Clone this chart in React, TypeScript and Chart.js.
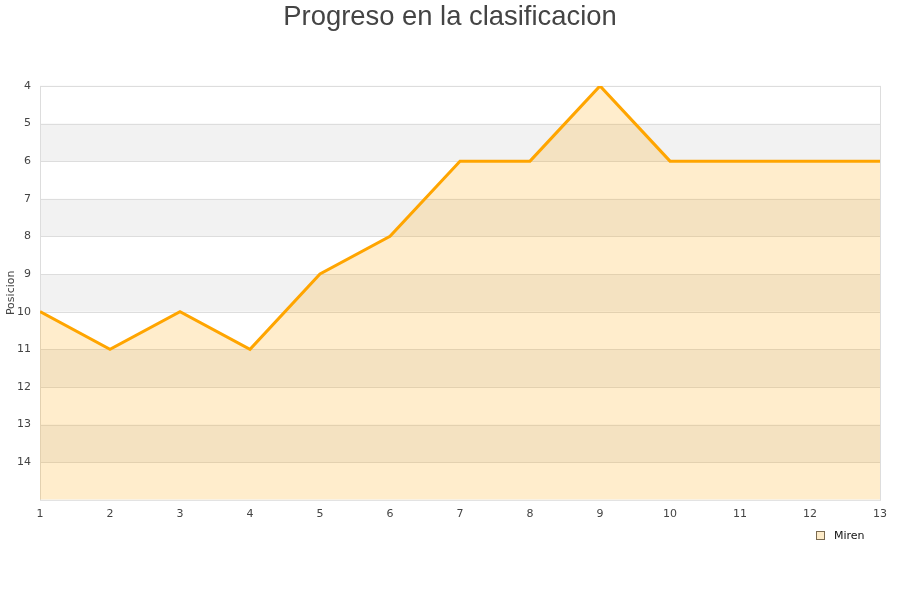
import React, { useEffect, useRef } from "react";
import { Chart, registerables } from "chart.js";

Chart.register(...registerables);

const jornadas = [1, 2, 3, 4, 5, 6, 7, 8, 9, 10, 11, 12, 13];
const posiciones = [10, 11, 10, 11, 9, 8, 6, 6, 4, 6, 6, 6, 6];
const equipo = "Miren";
const titulo = "Progreso en la clasificacion";
const ejeY = "Posicion";

// Alternating horizontal stripes, grid lines and frame behind the data
const stripes = {
  id: "stripes",
  beforeDatasetsDraw(chart: any) {
    const { ctx, chartArea, scales } = chart;
    const y = scales.y;
    ctx.save();
    for (let v = 5; v < 15; v += 2) {
      const a = y.getPixelForValue(v);
      const b = y.getPixelForValue(v + 1);
      ctx.fillStyle = "#f2f2f2";
      ctx.fillRect(chartArea.left, Math.min(a, b), chartArea.right - chartArea.left, Math.abs(b - a));
    }
    ctx.strokeStyle = "#dddddd";
    ctx.lineWidth = 1;
    for (let v = 4; v <= 14; v++) {
      const p = Math.round(y.getPixelForValue(v)) + 0.5;
      ctx.beginPath();
      ctx.moveTo(chartArea.left, p);
      ctx.lineTo(chartArea.right, p);
      ctx.stroke();
    }
    ctx.strokeRect(chartArea.left + 0.5, chartArea.top + 0.5, chartArea.right - chartArea.left, chartArea.bottom - chartArea.top);
    ctx.restore();
  },
};

// Small legend entry in the lower right corner
const legendBox = {
  id: "legendBox",
  afterDraw(chart: any) {
    const { ctx } = chart;
    const ds = chart.data.datasets[0];
    ctx.save();
    ctx.fillStyle = "#fdebc8";
    ctx.strokeStyle = "#7a6a50";
    ctx.lineWidth = 1;
    ctx.fillRect(816.5, 531.5, 8, 8);
    ctx.strokeRect(816.5, 531.5, 8, 8);
    ctx.fillStyle = "#111111";
    ctx.font = "11px 'DejaVu Sans'";
    ctx.textBaseline = "middle";
    ctx.textAlign = "left";
    ctx.fillText(ds.label, 834, 536);
    ctx.restore();
  },
};

export default function App() {
  const ref = useRef<HTMLCanvasElement>(null);
  useEffect(() => {
    const chart = new Chart(ref.current!, {
      type: "line",
      data: {
        datasets: [
          {
            label: equipo,
            data: jornadas.map((j, i) => ({ x: j, y: posiciones[i] })),
            borderColor: "#ffa500",
            backgroundColor: "rgba(255,165,0,0.2)",
            borderWidth: 3,
            pointRadius: 0,
            tension: 0,
            fill: { value: 15 },
          },
        ],
      },
      plugins: [stripes, legendBox],
      options: {
        animation: false,
        responsive: false,
        layout: { padding: { left: 0, right: 0, top: 0, bottom: 71 } },
        plugins: {
          title: {
            display: true,
            text: titulo,
            color: "#444444",
            font: { family: "Liberation Sans", size: 27.4, weight: "normal" },
            padding: { top: 1, bottom: 52 },
          },
          legend: { display: false },
          tooltip: { enabled: false },
        },
        scales: {
          x: {
            type: "linear",
            min: 1,
            max: 13,
            grid: { display: false, drawTicks: false },
            border: { display: false },
            ticks: {
              stepSize: 1,
              padding: 8,
              color: "#444444",
              font: { family: "DejaVu Sans", size: 11 },
            },
          },
          y: {
            reverse: true,
            min: 4,
            max: 15,
            grid: { display: false, drawTicks: false },
            border: { display: false },
            afterFit: (s: any) => {
              s.width = 40;
            },
            title: {
              display: true,
              text: ejeY,
              color: "#444444",
              font: { family: "DejaVu Sans", size: 11 },
              padding: { top: 5, bottom: 0 },
            },
            ticks: {
              stepSize: 1,
              padding: 9,
              color: "#444444",
              font: { family: "DejaVu Sans", size: 11 },
              callback: (v: any) => (v <= 14 ? String(v) : ""),
            },
          },
          // empty right-hand margin keeps the plot clear of the edge
          yRight: {
            position: "right",
            min: 4,
            max: 15,
            grid: { display: false, drawTicks: false },
            border: { display: false },
            ticks: { display: false },
            afterFit: (s: any) => {
              s.width = 20;
            },
          },
        },
      },
    });
    return () => chart.destroy();
  }, []);
  return (
    <div style={{ position: "fixed", left: 0, top: 0, width: 900, height: 600, background: "#fff" }}>
      <canvas ref={ref} width={900} height={600} />
    </div>
  );
}
